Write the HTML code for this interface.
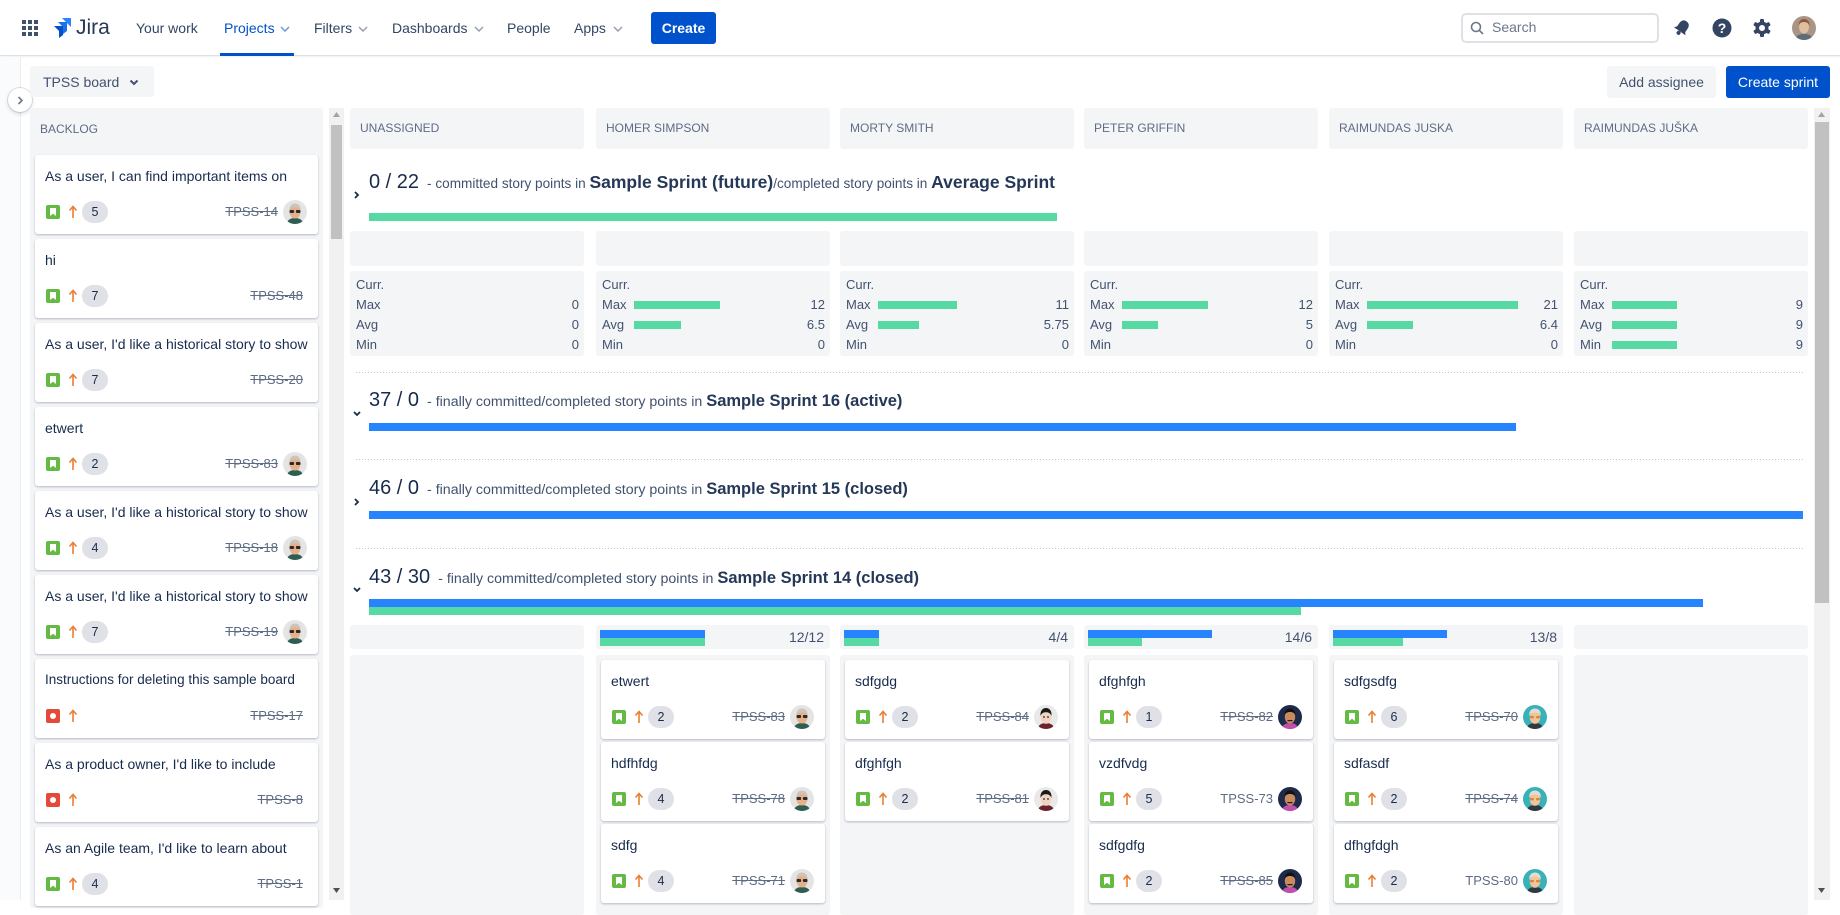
<!DOCTYPE html>
<html><head><meta charset="utf-8">
<style>
*{box-sizing:border-box}
body{margin:0;width:1840px;height:900px;overflow:hidden;position:relative;background:#fff;font-family:"Liberation Sans",Arial,sans-serif;color:#172b4d}
.a{position:absolute}
.nav{position:absolute;left:0;top:0;width:1840px;height:56px;background:#fff;border-bottom:1px solid #dfe1e6;box-shadow:0 1px 1px rgba(9,30,66,.06)}
.ni{position:absolute;top:18px;font-size:14px;line-height:20px;color:#344563;white-space:nowrap}
.chev{position:absolute;top:26px}
.gbox{position:absolute;background:#f4f5f7;border-radius:3px}
.hdr{position:absolute;top:108px;width:234px;height:41px;background:#f4f5f7;border-radius:3px;font-size:12px;color:#5e6c84;line-height:41px;padding-left:10px;white-space:nowrap}
.card{position:absolute;height:79px;background:#fff;border-radius:3px;box-shadow:0 1px 2px rgba(9,30,66,.28)}
.card .t{position:absolute;left:10px;top:11px;font-size:14px;line-height:20px;color:#172b4d;white-space:nowrap}
.st{position:absolute;left:11px;top:50px;width:14px;height:14px;border-radius:2px;background:#65ba43}
.st::after{content:"";position:absolute;left:4px;top:3px;width:6px;height:8px;background:#fff;clip-path:polygon(0 0,100% 0,100% 100%,50% 72%,0 100%)}
.bug{position:absolute;left:11px;top:50px;width:14px;height:14px;border-radius:2px;background:#e5493a}
.bug::after{content:"";position:absolute;left:4px;top:4px;width:6px;height:6px;border-radius:50%;background:#fff}
.ar{position:absolute;left:33px;top:49px;width:10px;height:16px}
.bd{position:absolute;left:47px;top:46px;width:26px;height:22px;border-radius:11px;background:#dfe1e6;font-size:12.5px;line-height:22px;text-align:center;color:#172b4d}
.k{position:absolute;top:48px;font-size:13px;line-height:18px;color:#5e6c84;white-space:nowrap}
.k.s{text-decoration:line-through}
.k1{right:40px}.k0{right:15px}
.av{position:absolute;right:11px;top:45px;width:24px;height:24px;border-radius:50%;overflow:hidden}
.av svg{display:block}
.sbox{position:absolute;top:271px;width:234px;height:85px;background:#f4f5f7;border-radius:3px}
.row{position:absolute;left:6px;right:5px;height:20px;line-height:20px;font-size:13px;color:#42526e}
.row .v{position:absolute;right:0;top:0}
.row .b{position:absolute;left:32px;top:6px;height:8px;background:#57d9a3}
.hd{position:absolute;left:369px;font-size:20px;line-height:24px;white-space:nowrap;color:#172b4d}
.hd .s{font-size:13.6px;color:#42526e}
.hd .s2{font-size:14.2px;color:#42526e}
.hd .n{font-size:17.5px;font-weight:bold;color:#253858}
.hd .n2{font-size:16.5px;font-weight:bold;color:#253858}
.hd .m{display:inline-block;width:8px}
.dot{position:absolute;left:356px;width:1448px;height:1px;background-image:repeating-linear-gradient(to right,#c1c7d0 0,#c1c7d0 1px,transparent 1px,transparent 3px)}
.bar{position:absolute;left:369px;height:8px}
.g{background:#57d9a3}.bl{background:#2684ff}
.sum{position:absolute;top:625px;width:234px;height:24px;background:#f4f5f7;border-radius:3px}
.sum .lbl{position:absolute;right:6px;top:2px;font-size:14px;line-height:20px;color:#42526e}
.sum .mb{position:absolute;left:4px;height:8px}
.low{position:absolute;top:655px;width:234px;height:260px;background:#f4f5f7;border-radius:3px}
</style></head><body>

<!-- NAV -->
<div class="nav">
  <div class="a" style="left:22px;top:20px;width:16px;height:16px">
    <div class="a" style="left:0;top:0;width:4px;height:4px;background:#42526e"></div>
    <div class="a" style="left:6px;top:0;width:4px;height:4px;background:#42526e"></div>
    <div class="a" style="left:12px;top:0;width:4px;height:4px;background:#42526e"></div>
    <div class="a" style="left:0;top:6px;width:4px;height:4px;background:#42526e"></div>
    <div class="a" style="left:6px;top:6px;width:4px;height:4px;background:#42526e"></div>
    <div class="a" style="left:12px;top:6px;width:4px;height:4px;background:#42526e"></div>
    <div class="a" style="left:0;top:12px;width:4px;height:4px;background:#42526e"></div>
    <div class="a" style="left:6px;top:12px;width:4px;height:4px;background:#42526e"></div>
    <div class="a" style="left:12px;top:12px;width:4px;height:4px;background:#42526e"></div>
  </div>
  <svg class="a" style="left:52px;top:18px" width="19" height="20" viewBox="0 0 19 20">
    <path d="M10 0h9v9z" fill="#2684ff"/>
    <path d="M6 4h9v9z" fill="#1d6fe8"/>
    <path d="M2 8h9v9z" fill="#0052cc"/>
    <path d="M11 8v9l-4 3v-9z" fill="#0052cc"/>
    <path d="M15 4v9l-4 3v-9z" fill="#1d6fe8"/>
  </svg>
  <div class="ni" style="left:76px;top:15px;font-size:21px;line-height:26px;color:#253858">Jira</div>
  <div class="ni" style="left:136px">Your work</div>
  <div class="ni" style="left:224px;color:#0052cc">Projects</div>
  <svg class="chev" style="left:280px" width="10" height="6" viewBox="0 0 10 6"><path d="M1 1l4 4 4-4" stroke="#6b9be0" stroke-width="1.5" fill="none"/></svg>
  <div class="a" style="left:220px;top:53px;width:74px;height:3px;background:#0052cc"></div>
  <div class="ni" style="left:314px">Filters</div>
  <svg class="chev" style="left:358px" width="10" height="6" viewBox="0 0 10 6"><path d="M1 1l4 4 4-4" stroke="#97a0af" stroke-width="1.5" fill="none"/></svg>
  <div class="ni" style="left:392px">Dashboards</div>
  <svg class="chev" style="left:474px" width="10" height="6" viewBox="0 0 10 6"><path d="M1 1l4 4 4-4" stroke="#97a0af" stroke-width="1.5" fill="none"/></svg>
  <div class="ni" style="left:507px">People</div>
  <div class="ni" style="left:574px">Apps</div>
  <svg class="chev" style="left:613px" width="10" height="6" viewBox="0 0 10 6"><path d="M1 1l4 4 4-4" stroke="#97a0af" stroke-width="1.5" fill="none"/></svg>
  <div class="a" style="left:651px;top:12px;width:65px;height:32px;background:#0052cc;border-radius:3px;color:#fff;font-size:14px;font-weight:bold;line-height:32px;text-align:center">Create</div>

  <div class="a" style="left:1461px;top:13px;width:198px;height:30px;border:2px solid #dfe1e6;border-radius:5px;background:#fff"></div>
  <svg class="a" style="left:1470px;top:21px" width="14" height="14" viewBox="0 0 14 14"><circle cx="6" cy="6" r="4.5" stroke="#6b778c" stroke-width="1.6" fill="none"/><path d="M9.3 9.3L13 13" stroke="#6b778c" stroke-width="1.6"/></svg>
  <div class="ni" style="left:1492px;color:#6b778c;top:17px">Search</div>

  <svg class="a" style="left:1672px;top:18px" width="20" height="20" viewBox="0 0 20 20"><g transform="rotate(35 10 10)"><path d="M10 2c-3.5 0-5 2.5-5 5.5v4L3 14h14l-2-2.5v-4C15 4.5 13.5 2 10 2z" fill="#344563"/><circle cx="10" cy="16" r="2" fill="#344563"/></g></svg>
  <svg class="a" style="left:1712px;top:18px" width="20" height="20" viewBox="0 0 20 20"><circle cx="10" cy="10" r="9.5" fill="#344563"/><text x="10" y="15" text-anchor="middle" font-family="Liberation Sans" font-weight="bold" font-size="14" fill="#fff">?</text></svg>
  <svg class="a" style="left:1752px;top:18px" width="20" height="20" viewBox="0 0 20 20"><g fill="#344563"><rect x="8" y="1" width="4" height="18" rx="1"/><rect x="8" y="1" width="4" height="18" rx="1" transform="rotate(60 10 10)"/><rect x="8" y="1" width="4" height="18" rx="1" transform="rotate(120 10 10)"/><circle cx="10" cy="10" r="6.5"/></g><circle cx="10" cy="10" r="3" fill="#fff"/></svg>
  <div class="a" style="left:1792px;top:16px;width:24px;height:24px;border-radius:50%;overflow:hidden"><svg width="24" height="24" viewBox="0 0 24 24"><rect width="24" height="24" fill="#a89585"/><path d="M3 24c1-5 5-6 9-6s8 1 9 6z" fill="#5b6d7c"/><ellipse cx="12" cy="11" rx="5" ry="6.5" fill="#e0bea0"/><path d="M6.5 10c0-5 3-7 5.5-7s6 2 5.5 7c-1-3-3-4-5.5-4s-4.5 1-5.5 4z" fill="#8b5a36"/></svg></div>
</div>

<!-- left strip -->
<div class="a" style="left:0;top:57px;width:21px;height:843px;background:#fafbfc;border-right:1px solid #ebecf0"></div>
<div class="a" style="left:8px;top:88px;width:24px;height:24px;border-radius:50%;background:#fff;box-shadow:0 0 0 1px rgba(9,30,66,.12),0 2px 4px rgba(9,30,66,.15)"></div>
<svg class="a" style="left:17px;top:96px" width="7" height="9" viewBox="0 0 7 9"><path d="M1.5 1l3.5 3.5-3.5 3.5" stroke="#6b778c" stroke-width="1.6" fill="none"/></svg>

<!-- top buttons -->
<div class="a" style="left:30px;top:66px;width:124px;height:31px;background:#f4f5f7;border-radius:3px"></div>
<div class="a" style="left:43px;top:72px;font-size:14px;line-height:20px;color:#42526e">TPSS board</div>
<svg class="a" style="left:129px;top:79px" width="10" height="7" viewBox="0 0 10 7"><path d="M1.5 1.5l3.5 3.5 3.5-3.5" stroke="#42526e" stroke-width="2" fill="none"/></svg>
<div class="a" style="left:1607px;top:66px;width:109px;height:32px;background:#f4f5f7;border-radius:3px;font-size:14px;line-height:32px;text-align:center;color:#42526e">Add assignee</div>
<div class="a" style="left:1726px;top:66px;width:104px;height:32px;background:#0052cc;border-radius:3px;font-size:14px;line-height:32px;text-align:center;color:#fff">Create sprint</div>

<!-- BACKLOG -->
<div class="gbox" style="left:30px;top:108px;width:293px;height:800px"></div>
<div class="a" style="left:40px;top:121px;font-size:12px;line-height:16px;color:#5e6c84">BACKLOG</div>

<div class="card" style="left:35px;top:155px;width:283px"><div class="t">As a user, I can find important items on</div><div class="st"></div><svg class="ar" viewBox="0 0 10 16"><path d="M5 14V3M1.5 6.5L5 2.5l3.5 4" stroke="#e97f33" stroke-width="1.6" fill="none"/></svg><div class="bd">5</div><div class="k s k1">TPSS-14</div><div class="av"><svg width="24" height="24" viewBox="0 0 24 24"><rect width="24" height="24" fill="#e4e4e4"/><path d="M4 24c0-4 3.5-6 8-6s8 2 8 6z" fill="#2e5e52"/><ellipse cx="12" cy="12" rx="5.5" ry="6.5" fill="#e7b08a"/><path d="M6.3 10.5c0-5 2.7-7 5.7-7s5.7 2 5.7 7c-1-2.2-2.5-3.2-5.7-3.2s-4.7 1-5.7 3.2z" fill="#cbc5bb"/><rect x="6.5" y="10" width="4.6" height="3" rx="1" fill="#2b2b2b"/><rect x="12.9" y="10" width="4.6" height="3" rx="1" fill="#2b2b2b"/></svg></div></div>

<div class="card" style="left:35px;top:239px;width:283px"><div class="t">hi</div><div class="st"></div><svg class="ar" viewBox="0 0 10 16"><path d="M5 14V3M1.5 6.5L5 2.5l3.5 4" stroke="#e97f33" stroke-width="1.6" fill="none"/></svg><div class="bd">7</div><div class="k s k0">TPSS-48</div></div>

<div class="card" style="left:35px;top:323px;width:283px"><div class="t">As a user, I'd like a historical story to show</div><div class="st"></div><svg class="ar" viewBox="0 0 10 16"><path d="M5 14V3M1.5 6.5L5 2.5l3.5 4" stroke="#e97f33" stroke-width="1.6" fill="none"/></svg><div class="bd">7</div><div class="k s k0">TPSS-20</div></div>

<div class="card" style="left:35px;top:407px;width:283px"><div class="t">etwert</div><div class="st"></div><svg class="ar" viewBox="0 0 10 16"><path d="M5 14V3M1.5 6.5L5 2.5l3.5 4" stroke="#e97f33" stroke-width="1.6" fill="none"/></svg><div class="bd">2</div><div class="k s k1">TPSS-83</div><div class="av"><svg width="24" height="24" viewBox="0 0 24 24"><rect width="24" height="24" fill="#e4e4e4"/><path d="M4 24c0-4 3.5-6 8-6s8 2 8 6z" fill="#2e5e52"/><ellipse cx="12" cy="12" rx="5.5" ry="6.5" fill="#e7b08a"/><path d="M6.3 10.5c0-5 2.7-7 5.7-7s5.7 2 5.7 7c-1-2.2-2.5-3.2-5.7-3.2s-4.7 1-5.7 3.2z" fill="#cbc5bb"/><rect x="6.5" y="10" width="4.6" height="3" rx="1" fill="#2b2b2b"/><rect x="12.9" y="10" width="4.6" height="3" rx="1" fill="#2b2b2b"/></svg></div></div>

<div class="card" style="left:35px;top:491px;width:283px"><div class="t">As a user, I'd like a historical story to show</div><div class="st"></div><svg class="ar" viewBox="0 0 10 16"><path d="M5 14V3M1.5 6.5L5 2.5l3.5 4" stroke="#e97f33" stroke-width="1.6" fill="none"/></svg><div class="bd">4</div><div class="k s k1">TPSS-18</div><div class="av"><svg width="24" height="24" viewBox="0 0 24 24"><rect width="24" height="24" fill="#e4e4e4"/><path d="M4 24c0-4 3.5-6 8-6s8 2 8 6z" fill="#2e5e52"/><ellipse cx="12" cy="12" rx="5.5" ry="6.5" fill="#e7b08a"/><path d="M6.3 10.5c0-5 2.7-7 5.7-7s5.7 2 5.7 7c-1-2.2-2.5-3.2-5.7-3.2s-4.7 1-5.7 3.2z" fill="#cbc5bb"/><rect x="6.5" y="10" width="4.6" height="3" rx="1" fill="#2b2b2b"/><rect x="12.9" y="10" width="4.6" height="3" rx="1" fill="#2b2b2b"/></svg></div></div>

<div class="card" style="left:35px;top:575px;width:283px"><div class="t">As a user, I'd like a historical story to show</div><div class="st"></div><svg class="ar" viewBox="0 0 10 16"><path d="M5 14V3M1.5 6.5L5 2.5l3.5 4" stroke="#e97f33" stroke-width="1.6" fill="none"/></svg><div class="bd">7</div><div class="k s k1">TPSS-19</div><div class="av"><svg width="24" height="24" viewBox="0 0 24 24"><rect width="24" height="24" fill="#e4e4e4"/><path d="M4 24c0-4 3.5-6 8-6s8 2 8 6z" fill="#2e5e52"/><ellipse cx="12" cy="12" rx="5.5" ry="6.5" fill="#e7b08a"/><path d="M6.3 10.5c0-5 2.7-7 5.7-7s5.7 2 5.7 7c-1-2.2-2.5-3.2-5.7-3.2s-4.7 1-5.7 3.2z" fill="#cbc5bb"/><rect x="6.5" y="10" width="4.6" height="3" rx="1" fill="#2b2b2b"/><rect x="12.9" y="10" width="4.6" height="3" rx="1" fill="#2b2b2b"/></svg></div></div>

<div class="card" style="left:35px;top:659px;width:283px"><div class="t" style="font-size:13.5px">Instructions for deleting this sample board</div><div class="bug"></div><svg class="ar" viewBox="0 0 10 16"><path d="M5 14V3M1.5 6.5L5 2.5l3.5 4" stroke="#e97f33" stroke-width="1.6" fill="none"/></svg><div class="k s k0">TPSS-17</div></div>

<div class="card" style="left:35px;top:743px;width:283px"><div class="t">As a product owner, I'd like to include</div><div class="bug"></div><svg class="ar" viewBox="0 0 10 16"><path d="M5 14V3M1.5 6.5L5 2.5l3.5 4" stroke="#e97f33" stroke-width="1.6" fill="none"/></svg><div class="k s k0">TPSS-8</div></div>

<div class="card" style="left:35px;top:827px;width:283px"><div class="t">As an Agile team, I'd like to learn about</div><div class="st"></div><svg class="ar" viewBox="0 0 10 16"><path d="M5 14V3M1.5 6.5L5 2.5l3.5 4" stroke="#e97f33" stroke-width="1.6" fill="none"/></svg><div class="bd">4</div><div class="k s k0">TPSS-1</div></div>

<!-- backlog scrollbar -->
<div class="a" style="left:329px;top:108px;width:15px;height:792px;background:#f1f1f1"></div>
<div class="a" style="left:331px;top:125px;width:11px;height:114px;background:#c1c1c1"></div>
<svg class="a" style="left:333px;top:112px" width="7" height="5" viewBox="0 0 7 5"><path d="M0 5L3.5 0 7 5z" fill="#a3a3a3"/></svg>
<svg class="a" style="left:333px;top:888px" width="7" height="5" viewBox="0 0 7 5"><path d="M0 0L3.5 5 7 0z" fill="#505050"/></svg>

<!-- column headers -->
<div class="hdr" style="left:350px">UNASSIGNED</div>
<div class="hdr" style="left:596px">HOMER SIMPSON</div>
<div class="hdr" style="left:840px">MORTY SMITH</div>
<div class="hdr" style="left:1084px">PETER GRIFFIN</div>
<div class="hdr" style="left:1329px">RAIMUNDAS JUSKA</div>
<div class="hdr" style="left:1574px">RAIMUNDAS JUŠKA</div>

<!-- sprint 1 -->
<svg class="a" style="left:354px;top:191px" width="6" height="8" viewBox="0 0 6 8"><path d="M1 1l3 3-3 3" stroke="#172b4d" stroke-width="1.8" fill="none"/></svg>
<div class="hd" style="top:170px">0 / 22<span class="m"></span><span class="s">- committed story points in </span><span class="n">Sample Sprint (future)</span><span class="s">/completed story points in </span><span class="n">Average Sprint</span></div>
<div class="bar g" style="top:213px;width:688px"></div>

<div class="gbox" style="left:350px;top:231px;width:234px;height:35px"></div>
<div class="gbox" style="left:596px;top:231px;width:234px;height:35px"></div>
<div class="gbox" style="left:840px;top:231px;width:234px;height:35px"></div>
<div class="gbox" style="left:1084px;top:231px;width:234px;height:35px"></div>
<div class="gbox" style="left:1329px;top:231px;width:234px;height:35px"></div>
<div class="gbox" style="left:1574px;top:231px;width:234px;height:35px"></div>

<div class="sbox" style="left:350px">
 <div class="row" style="top:4px">Curr.</div>
 <div class="row" style="top:24px">Max<span class="v">0</span></div>
 <div class="row" style="top:44px">Avg<span class="v">0</span></div>
 <div class="row" style="top:64px">Min<span class="v">0</span></div>
</div>
<div class="sbox" style="left:596px">
 <div class="row" style="top:4px">Curr.</div>
 <div class="row" style="top:24px">Max<div class="b" style="width:86px"></div><span class="v">12</span></div>
 <div class="row" style="top:44px">Avg<div class="b" style="width:47px"></div><span class="v">6.5</span></div>
 <div class="row" style="top:64px">Min<span class="v">0</span></div>
</div>
<div class="sbox" style="left:840px">
 <div class="row" style="top:4px">Curr.</div>
 <div class="row" style="top:24px">Max<div class="b" style="width:79px"></div><span class="v">11</span></div>
 <div class="row" style="top:44px">Avg<div class="b" style="width:41px"></div><span class="v">5.75</span></div>
 <div class="row" style="top:64px">Min<span class="v">0</span></div>
</div>
<div class="sbox" style="left:1084px">
 <div class="row" style="top:4px">Curr.</div>
 <div class="row" style="top:24px">Max<div class="b" style="width:86px"></div><span class="v">12</span></div>
 <div class="row" style="top:44px">Avg<div class="b" style="width:36px"></div><span class="v">5</span></div>
 <div class="row" style="top:64px">Min<span class="v">0</span></div>
</div>
<div class="sbox" style="left:1329px">
 <div class="row" style="top:4px">Curr.</div>
 <div class="row" style="top:24px">Max<div class="b" style="width:151px"></div><span class="v">21</span></div>
 <div class="row" style="top:44px">Avg<div class="b" style="width:46px"></div><span class="v">6.4</span></div>
 <div class="row" style="top:64px">Min<span class="v">0</span></div>
</div>
<div class="sbox" style="left:1574px">
 <div class="row" style="top:4px">Curr.</div>
 <div class="row" style="top:24px">Max<div class="b" style="width:65px"></div><span class="v">9</span></div>
 <div class="row" style="top:44px">Avg<div class="b" style="width:65px"></div><span class="v">9</span></div>
 <div class="row" style="top:64px">Min<div class="b" style="width:65px"></div><span class="v">9</span></div>
</div>

<!-- sprint 16 -->
<div class="dot" style="top:372px"></div>
<svg class="a" style="left:353px;top:411px" width="8" height="6" viewBox="0 0 8 6"><path d="M1 1l3 3 3-3" stroke="#172b4d" stroke-width="1.8" fill="none"/></svg>
<div class="hd" style="top:388px">37 / 0<span class="m"></span><span class="s2">- finally committed/completed story points in </span><span class="n2">Sample Sprint 16 (active)</span></div>
<div class="bar bl" style="top:423px;width:1147px"></div>

<!-- sprint 15 -->
<div class="dot" style="top:459px"></div>
<svg class="a" style="left:354px;top:498px" width="6" height="8" viewBox="0 0 6 8"><path d="M1 1l3 3-3 3" stroke="#172b4d" stroke-width="1.8" fill="none"/></svg>
<div class="hd" style="top:476px">46 / 0<span class="m"></span><span class="s2">- finally committed/completed story points in </span><span class="n2">Sample Sprint 15 (closed)</span></div>
<div class="bar bl" style="top:511px;width:1434px"></div>

<!-- sprint 14 -->
<div class="dot" style="top:548px"></div>
<svg class="a" style="left:353px;top:587px" width="8" height="6" viewBox="0 0 8 6"><path d="M1 1l3 3 3-3" stroke="#172b4d" stroke-width="1.8" fill="none"/></svg>
<div class="hd" style="top:565px">43 / 30<span class="m"></span><span class="s2">- finally committed/completed story points in </span><span class="n2">Sample Sprint 14 (closed)</span></div>
<div class="bar bl" style="top:599px;width:1334px"></div>
<div class="bar g" style="top:607px;width:932px"></div>

<!-- summary boxes -->
<div class="sum" style="left:350px"></div>
<div class="sum" style="left:596px"><div class="mb bl" style="top:5px;width:105px"></div><div class="mb g" style="top:13px;width:105px"></div><div class="lbl">12/12</div></div>
<div class="sum" style="left:840px"><div class="mb bl" style="top:5px;width:35px"></div><div class="mb g" style="top:13px;width:35px"></div><div class="lbl">4/4</div></div>
<div class="sum" style="left:1084px"><div class="mb bl" style="top:5px;width:124px"></div><div class="mb g" style="top:13px;width:54px"></div><div class="lbl">14/6</div></div>
<div class="sum" style="left:1329px"><div class="mb bl" style="top:5px;width:114px"></div><div class="mb g" style="top:13px;width:70px"></div><div class="lbl">13/8</div></div>
<div class="sum" style="left:1574px"></div>

<div class="low" style="left:350px"></div>
<div class="low" style="left:596px"></div>
<div class="low" style="left:840px"></div>
<div class="low" style="left:1084px"></div>
<div class="low" style="left:1329px"></div>
<div class="low" style="left:1574px"></div>

<!-- Homer cards -->
<div class="card" style="left:601px;top:660px;width:224px"><div class="t">etwert</div><div class="st"></div><svg class="ar" viewBox="0 0 10 16"><path d="M5 14V3M1.5 6.5L5 2.5l3.5 4" stroke="#e97f33" stroke-width="1.6" fill="none"/></svg><div class="bd">2</div><div class="k s k1">TPSS-83</div><div class="av"><svg width="24" height="24" viewBox="0 0 24 24"><rect width="24" height="24" fill="#e4e4e4"/><path d="M4 24c0-4 3.5-6 8-6s8 2 8 6z" fill="#2e5e52"/><ellipse cx="12" cy="12" rx="5.5" ry="6.5" fill="#e7b08a"/><path d="M6.3 10.5c0-5 2.7-7 5.7-7s5.7 2 5.7 7c-1-2.2-2.5-3.2-5.7-3.2s-4.7 1-5.7 3.2z" fill="#cbc5bb"/><rect x="6.5" y="10" width="4.6" height="3" rx="1" fill="#2b2b2b"/><rect x="12.9" y="10" width="4.6" height="3" rx="1" fill="#2b2b2b"/></svg></div></div>
<div class="card" style="left:601px;top:742px;width:224px"><div class="t">hdfhfdg</div><div class="st"></div><svg class="ar" viewBox="0 0 10 16"><path d="M5 14V3M1.5 6.5L5 2.5l3.5 4" stroke="#e97f33" stroke-width="1.6" fill="none"/></svg><div class="bd">4</div><div class="k s k1">TPSS-78</div><div class="av"><svg width="24" height="24" viewBox="0 0 24 24"><rect width="24" height="24" fill="#e4e4e4"/><path d="M4 24c0-4 3.5-6 8-6s8 2 8 6z" fill="#2e5e52"/><ellipse cx="12" cy="12" rx="5.5" ry="6.5" fill="#e7b08a"/><path d="M6.3 10.5c0-5 2.7-7 5.7-7s5.7 2 5.7 7c-1-2.2-2.5-3.2-5.7-3.2s-4.7 1-5.7 3.2z" fill="#cbc5bb"/><rect x="6.5" y="10" width="4.6" height="3" rx="1" fill="#2b2b2b"/><rect x="12.9" y="10" width="4.6" height="3" rx="1" fill="#2b2b2b"/></svg></div></div>
<div class="card" style="left:601px;top:824px;width:224px"><div class="t">sdfg</div><div class="st"></div><svg class="ar" viewBox="0 0 10 16"><path d="M5 14V3M1.5 6.5L5 2.5l3.5 4" stroke="#e97f33" stroke-width="1.6" fill="none"/></svg><div class="bd">4</div><div class="k s k1">TPSS-71</div><div class="av"><svg width="24" height="24" viewBox="0 0 24 24"><rect width="24" height="24" fill="#e4e4e4"/><path d="M4 24c0-4 3.5-6 8-6s8 2 8 6z" fill="#2e5e52"/><ellipse cx="12" cy="12" rx="5.5" ry="6.5" fill="#e7b08a"/><path d="M6.3 10.5c0-5 2.7-7 5.7-7s5.7 2 5.7 7c-1-2.2-2.5-3.2-5.7-3.2s-4.7 1-5.7 3.2z" fill="#cbc5bb"/><rect x="6.5" y="10" width="4.6" height="3" rx="1" fill="#2b2b2b"/><rect x="12.9" y="10" width="4.6" height="3" rx="1" fill="#2b2b2b"/></svg></div></div>

<!-- Morty cards -->
<div class="card" style="left:845px;top:660px;width:224px"><div class="t">sdfgdg</div><div class="st"></div><svg class="ar" viewBox="0 0 10 16"><path d="M5 14V3M1.5 6.5L5 2.5l3.5 4" stroke="#e97f33" stroke-width="1.6" fill="none"/></svg><div class="bd">2</div><div class="k s k1">TPSS-84</div><div class="av"><svg width="24" height="24" viewBox="0 0 24 24"><rect width="24" height="24" fill="#e9e9e9"/><path d="M4 24c0-4 3.5-6 8-6s8 2 8 6z" fill="#6b2230"/><ellipse cx="12" cy="12.5" rx="5.2" ry="6.3" fill="#f2d3c2"/><path d="M6.5 11c-.5-5 2-8 5.5-8s6 3 5.5 8c-1-2.5-2.5-3.8-5.5-3.8S7.5 8.5 6.5 11z" fill="#1a1a1a"/><circle cx="10" cy="12" r=".9" fill="#222"/><circle cx="14" cy="12" r=".9" fill="#222"/></svg></div></div>
<div class="card" style="left:845px;top:742px;width:224px"><div class="t">dfghfgh</div><div class="st"></div><svg class="ar" viewBox="0 0 10 16"><path d="M5 14V3M1.5 6.5L5 2.5l3.5 4" stroke="#e97f33" stroke-width="1.6" fill="none"/></svg><div class="bd">2</div><div class="k s k1">TPSS-81</div><div class="av"><svg width="24" height="24" viewBox="0 0 24 24"><rect width="24" height="24" fill="#e9e9e9"/><path d="M4 24c0-4 3.5-6 8-6s8 2 8 6z" fill="#6b2230"/><ellipse cx="12" cy="12.5" rx="5.2" ry="6.3" fill="#f2d3c2"/><path d="M6.5 11c-.5-5 2-8 5.5-8s6 3 5.5 8c-1-2.5-2.5-3.8-5.5-3.8S7.5 8.5 6.5 11z" fill="#1a1a1a"/><circle cx="10" cy="12" r=".9" fill="#222"/><circle cx="14" cy="12" r=".9" fill="#222"/></svg></div></div>

<!-- Peter cards -->
<div class="card" style="left:1089px;top:660px;width:224px"><div class="t">dfghfgh</div><div class="st"></div><svg class="ar" viewBox="0 0 10 16"><path d="M5 14V3M1.5 6.5L5 2.5l3.5 4" stroke="#e97f33" stroke-width="1.6" fill="none"/></svg><div class="bd">1</div><div class="k s k1">TPSS-82</div><div class="av"><svg width="24" height="24" viewBox="0 0 24 24"><rect width="24" height="24" fill="#1e2a4a"/><path d="M4 24c0-4 3.5-6 8-6s8 2 8 6z" fill="#c24fae"/><ellipse cx="12" cy="12" rx="5.2" ry="6.5" fill="#c98a60"/><path d="M6.5 10.5c0-5 2.5-7 5.5-7s5.5 2 5.5 7c-1-2.5-2.5-3.5-5.5-3.5s-4.5 1-5.5 3.5z" fill="#121212"/><path d="M9 15h6l-1 1.2h-4z" fill="#2a1a10"/></svg></div></div>
<div class="card" style="left:1089px;top:742px;width:224px"><div class="t">vzdfvdg</div><div class="st"></div><svg class="ar" viewBox="0 0 10 16"><path d="M5 14V3M1.5 6.5L5 2.5l3.5 4" stroke="#e97f33" stroke-width="1.6" fill="none"/></svg><div class="bd">5</div><div class="k k1">TPSS-73</div><div class="av"><svg width="24" height="24" viewBox="0 0 24 24"><rect width="24" height="24" fill="#1e2a4a"/><path d="M4 24c0-4 3.5-6 8-6s8 2 8 6z" fill="#c24fae"/><ellipse cx="12" cy="12" rx="5.2" ry="6.5" fill="#c98a60"/><path d="M6.5 10.5c0-5 2.5-7 5.5-7s5.5 2 5.5 7c-1-2.5-2.5-3.5-5.5-3.5s-4.5 1-5.5 3.5z" fill="#121212"/><path d="M9 15h6l-1 1.2h-4z" fill="#2a1a10"/></svg></div></div>
<div class="card" style="left:1089px;top:824px;width:224px"><div class="t">sdfgdfg</div><div class="st"></div><svg class="ar" viewBox="0 0 10 16"><path d="M5 14V3M1.5 6.5L5 2.5l3.5 4" stroke="#e97f33" stroke-width="1.6" fill="none"/></svg><div class="bd">2</div><div class="k s k1">TPSS-85</div><div class="av"><svg width="24" height="24" viewBox="0 0 24 24"><rect width="24" height="24" fill="#1e2a4a"/><path d="M4 24c0-4 3.5-6 8-6s8 2 8 6z" fill="#c24fae"/><ellipse cx="12" cy="12" rx="5.2" ry="6.5" fill="#c98a60"/><path d="M6.5 10.5c0-5 2.5-7 5.5-7s5.5 2 5.5 7c-1-2.5-2.5-3.5-5.5-3.5s-4.5 1-5.5 3.5z" fill="#121212"/><path d="M9 15h6l-1 1.2h-4z" fill="#2a1a10"/></svg></div></div>

<!-- Raimundas cards -->
<div class="card" style="left:1334px;top:660px;width:224px"><div class="t">sdfgsdfg</div><div class="st"></div><svg class="ar" viewBox="0 0 10 16"><path d="M5 14V3M1.5 6.5L5 2.5l3.5 4" stroke="#e97f33" stroke-width="1.6" fill="none"/></svg><div class="bd">6</div><div class="k s k1">TPSS-70</div><div class="av"><svg width="24" height="24" viewBox="0 0 24 24"><rect width="24" height="24" fill="#38b2b8"/><path d="M4 24c0-4 3.5-6 8-6s8 2 8 6z" fill="#2f3a40"/><ellipse cx="12" cy="12.5" rx="5.2" ry="6.3" fill="#f1c49c"/><path d="M6.2 11c-.5-5 2.3-7.5 5.8-7.5s6.3 2.5 5.8 7.5c-1-2.5-3-3.5-5.8-3.5S7.2 8.5 6.2 11z" fill="#e2ddd0"/><rect x="7" y="11" width="4" height="2.4" rx="1" fill="#d4883c"/><rect x="13" y="11" width="4" height="2.4" rx="1" fill="#d4883c"/></svg></div></div>
<div class="card" style="left:1334px;top:742px;width:224px"><div class="t">sdfasdf</div><div class="st"></div><svg class="ar" viewBox="0 0 10 16"><path d="M5 14V3M1.5 6.5L5 2.5l3.5 4" stroke="#e97f33" stroke-width="1.6" fill="none"/></svg><div class="bd">2</div><div class="k s k1">TPSS-74</div><div class="av"><svg width="24" height="24" viewBox="0 0 24 24"><rect width="24" height="24" fill="#38b2b8"/><path d="M4 24c0-4 3.5-6 8-6s8 2 8 6z" fill="#2f3a40"/><ellipse cx="12" cy="12.5" rx="5.2" ry="6.3" fill="#f1c49c"/><path d="M6.2 11c-.5-5 2.3-7.5 5.8-7.5s6.3 2.5 5.8 7.5c-1-2.5-3-3.5-5.8-3.5S7.2 8.5 6.2 11z" fill="#e2ddd0"/><rect x="7" y="11" width="4" height="2.4" rx="1" fill="#d4883c"/><rect x="13" y="11" width="4" height="2.4" rx="1" fill="#d4883c"/></svg></div></div>
<div class="card" style="left:1334px;top:824px;width:224px"><div class="t">dfhgfdgh</div><div class="st"></div><svg class="ar" viewBox="0 0 10 16"><path d="M5 14V3M1.5 6.5L5 2.5l3.5 4" stroke="#e97f33" stroke-width="1.6" fill="none"/></svg><div class="bd">2</div><div class="k k1">TPSS-80</div><div class="av"><svg width="24" height="24" viewBox="0 0 24 24"><rect width="24" height="24" fill="#38b2b8"/><path d="M4 24c0-4 3.5-6 8-6s8 2 8 6z" fill="#2f3a40"/><ellipse cx="12" cy="12.5" rx="5.2" ry="6.3" fill="#f1c49c"/><path d="M6.2 11c-.5-5 2.3-7.5 5.8-7.5s6.3 2.5 5.8 7.5c-1-2.5-3-3.5-5.8-3.5S7.2 8.5 6.2 11z" fill="#e2ddd0"/><rect x="7" y="11" width="4" height="2.4" rx="1" fill="#d4883c"/><rect x="13" y="11" width="4" height="2.4" rx="1" fill="#d4883c"/></svg></div></div>

<!-- main scrollbar -->
<div class="a" style="left:1814px;top:108px;width:16px;height:792px;background:#f1f1f1"></div>
<div class="a" style="left:1815px;top:122px;width:14px;height:481px;background:#c1c1c1"></div>
<svg class="a" style="left:1818px;top:112px" width="7" height="5" viewBox="0 0 7 5"><path d="M0 5L3.5 0 7 5z" fill="#a3a3a3"/></svg>
<svg class="a" style="left:1818px;top:888px" width="7" height="5" viewBox="0 0 7 5"><path d="M0 0L3.5 5 7 0z" fill="#505050"/></svg>

</body></html>
